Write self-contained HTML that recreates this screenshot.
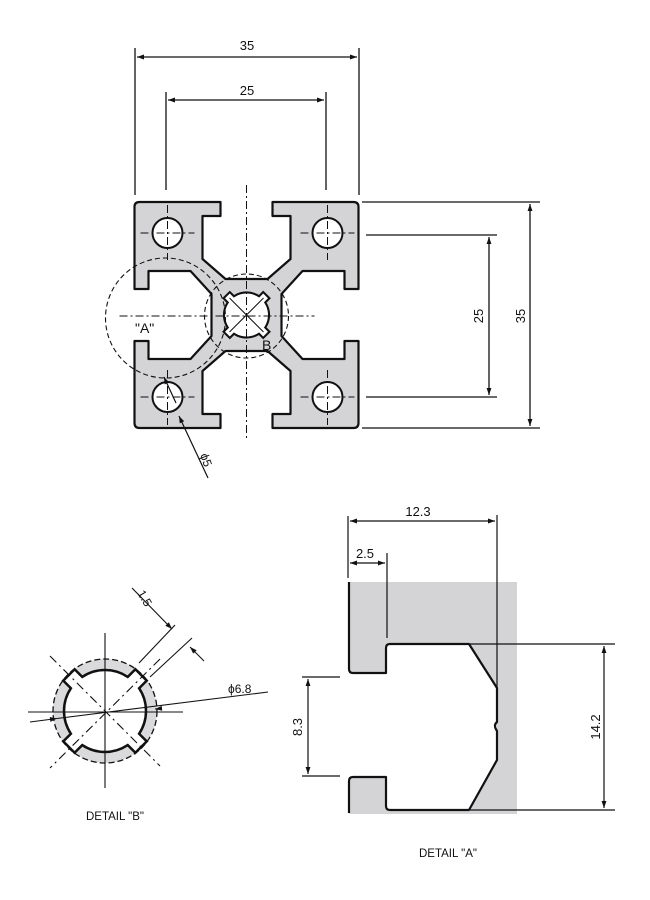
<!DOCTYPE html>
<html><head><meta charset="utf-8"><style>
html,body{margin:0;padding:0;background:#fff;}
svg{display:block;}
text{font-family:"Liberation Sans",Arial,sans-serif;fill:#111;}
</style></head><body>
<svg width="650" height="900" viewBox="0 0 650 900" xmlns="http://www.w3.org/2000/svg">
<defs>
<marker id="ar" viewBox="0 0 10 10" refX="10" refY="5" markerWidth="9" markerHeight="7" orient="auto-start-reverse" markerUnits="userSpaceOnUse"><path d="M0,1.5 L10,5 L0,8.5 z" fill="#111"/></marker>
<path id="star" d="M34.09,22.77 L41.72,30.40 L30.40,41.72 L22.77,34.09 A41,41 0 0 1 -22.77,34.09 L-30.40,41.72 L-41.72,30.40 L-34.09,22.77 A41,41 0 0 1 -34.09,-22.77 L-41.72,-30.40 L-30.40,-41.72 L-22.77,-34.09 A41,41 0 0 1 22.77,-34.09 L30.40,-41.72 L41.72,-30.40 L34.09,-22.77 A41,41 0 0 1 34.09,22.77 Z"/>
</defs>

<g stroke="#111" stroke-width="1.3" fill="none">
<line x1="135" y1="48" x2="135" y2="195"/>
<line x1="359" y1="48" x2="359" y2="195"/>
<line x1="166" y1="92" x2="166" y2="190"/>
<line x1="326" y1="92" x2="326" y2="190"/>
<line x1="137" y1="57" x2="357" y2="57" marker-start="url(#ar)" marker-end="url(#ar)"/>
<line x1="168" y1="100" x2="324" y2="100" marker-start="url(#ar)" marker-end="url(#ar)"/>
<line x1="362" y1="202" x2="540" y2="202"/>
<line x1="362" y1="428" x2="540" y2="428"/>
<line x1="366" y1="235" x2="497" y2="235"/>
<line x1="366" y1="397" x2="497" y2="397"/>
<line x1="530" y1="204" x2="530" y2="426" marker-start="url(#ar)" marker-end="url(#ar)"/>
<line x1="489" y1="237" x2="489" y2="395" marker-start="url(#ar)" marker-end="url(#ar)"/>
</g>
<text x="247" y="50" font-size="13" text-anchor="middle">35</text>
<text x="247" y="95" font-size="13" text-anchor="middle">25</text>
<text transform="translate(483,316) rotate(-90)" font-size="13" text-anchor="middle">25</text>
<text transform="translate(525,316) rotate(-90)" font-size="13" text-anchor="middle">35</text>

<g transform="translate(246.5,315)">
<path fill="#d4d4d6" stroke="#111" stroke-width="2.2" stroke-linejoin="round" d="
M-107,-113 L-26,-113 L-26,-99 L-44,-99 L-44,-56 L-21,-36 L21,-36 L44,-56 L44,-99 L26,-99 L26,-113 L107,-113 Q112,-113 112,-108
L112,-26 L98,-26 L98,-44 L56,-44 L35,-21 L35,21 L56,44 L98,44 L98,26 L112,26 L112,108 Q112,113 107,113
L26,113 L26,99 L44,99 L44,56 L21,36 L-21,36 L-44,56 L-44,99 L-26,99 L-26,113 L-107,113 Q-112,113 -112,108
L-112,26 L-98,26 L-98,44 L-56,44 L-35,21 L-35,-21 L-56,-44 L-98,-44 L-98,-26 L-112,-26 L-112,-108 Q-112,-113 -107,-113 Z"/>
<use href="#star" transform="scale(0.55)" fill="#fff" stroke="#111" stroke-width="3.8"/>
<g fill="#fff" stroke="#111" stroke-width="2">
<circle cx="-79" cy="-82" r="15"/><circle cx="81" cy="-82" r="15"/>
<circle cx="-79" cy="82" r="15"/><circle cx="81" cy="82" r="15"/>
</g>
<g stroke="#111" stroke-width="1" stroke-dasharray="8,3,2,3" fill="none">
<line x1="0" y1="-130" x2="0" y2="125"/>
<line x1="-127" y1="1" x2="68" y2="1"/>
<line x1="-79" y1="-110" x2="-79" y2="-55"/><line x1="-106" y1="-82" x2="-52" y2="-82"/>
<line x1="81" y1="-110" x2="81" y2="-55"/><line x1="54" y1="-82" x2="108" y2="-82"/>
<line x1="-79" y1="55" x2="-79" y2="110"/><line x1="-106" y1="82" x2="-52" y2="82"/>
<line x1="81" y1="55" x2="81" y2="110"/><line x1="54" y1="82" x2="108" y2="82"/>
<line x1="-17" y1="-17" x2="17" y2="17" stroke-dasharray="none"/><line x1="17" y1="-17" x2="-17" y2="17" stroke-dasharray="none"/>
</g>
<g stroke="#111" stroke-width="1.1" stroke-dasharray="5,3" fill="none">
<circle cx="-81" cy="3" r="60"/>
<circle cx="0" cy="1" r="42"/>
</g>
</g>
<text x="135" y="333" font-size="14">"A"</text>
<text x="262" y="350" font-size="14">B</text>
<g stroke="#111" stroke-width="1.2" fill="none">
<line x1="208" y1="478" x2="179" y2="416" marker-end="url(#ar)"/>
<line x1="176" y1="403" x2="164" y2="377" marker-end="url(#ar)"/>
</g>
<text transform="translate(200,455) rotate(70)" font-size="12">ϕ5</text>

<g transform="translate(105,711)">
<circle r="52" fill="#dadadc" stroke="#111" stroke-width="1.3" stroke-dasharray="6,3"/>
<use href="#star" fill="#fff" stroke="#111" stroke-width="2.5"/>
<g stroke="#111" stroke-width="1.1" fill="none">
<line x1="0" y1="-78" x2="0" y2="77"/>
<line x1="-77" y1="1" x2="78" y2="1"/>
<line x1="-55" y1="-55" x2="55" y2="55" stroke-dasharray="9,4,2,4"/>
<line x1="55" y1="-52" x2="-55" y2="57" stroke-dasharray="9,4,2,4"/>
<line x1="-75" y1="11" x2="-48" y2="7.5" marker-end="url(#ar)"/>
<line x1="-48" y1="7.5" x2="163" y2="-19"/>
<line x1="50" y1="-2" x2="55" y2="-2.5" marker-start="url(#ar)"/>
<line x1="34" y1="-48" x2="70" y2="-86"/>
<line x1="45" y1="-34" x2="87" y2="-73"/>
<line x1="27" y1="-123" x2="67" y2="-82" marker-end="url(#ar)"/>
<line x1="99" y1="-50" x2="85" y2="-64" marker-end="url(#ar)"/>
</g>
</g>
<text transform="translate(137,593) rotate(60)" font-size="12">1.5</text>
<text x="228" y="693" font-size="12">ϕ6.8</text>
<text x="115" y="820" font-size="11.5" text-anchor="middle">DETAIL "B"</text>

<rect x="349" y="582" width="168" height="232" fill="#d4d4d6"/>
<path d="M349,673 L386,673 L386,644 L469,644 L497,688 L497,760 L469,810 L386,810 L386,777 L349,777 Z" fill="#fff"/>
<rect x="340" y="673" width="9" height="104" fill="#fff"/>
<path d="M349,582 L349,669 Q349,673 353,673 L386,673 L386,648 Q386,644 390,644 L469,644 L497,688 L497,722 Q493,725 497,731 L497,760 L469,810 L390,810 Q386,810 386,806 L386,777 L353,777 Q349,777 349,781 L349,813" fill="none" stroke="#111" stroke-width="2.2" stroke-linejoin="round"/>
<g stroke="#111" stroke-width="1.2" fill="none">
<line x1="348" y1="516" x2="348" y2="578"/>
<line x1="497" y1="515" x2="497" y2="688"/>
<line x1="387" y1="553" x2="387" y2="638"/>
<line x1="350" y1="521" x2="495" y2="521" marker-start="url(#ar)" marker-end="url(#ar)"/>
<line x1="350" y1="563" x2="385" y2="563" marker-start="url(#ar)" marker-end="url(#ar)"/>
<line x1="470" y1="644" x2="615" y2="644"/>
<line x1="470" y1="810" x2="615" y2="810"/>
<line x1="604" y1="646" x2="604" y2="808" marker-start="url(#ar)" marker-end="url(#ar)"/>
<line x1="302" y1="677" x2="340" y2="677"/>
<line x1="302" y1="776" x2="340" y2="776"/>
<line x1="308" y1="679" x2="308" y2="774" marker-start="url(#ar)" marker-end="url(#ar)"/>
</g>
<text x="418" y="516" font-size="13" text-anchor="middle">12.3</text>
<text x="365" y="558" font-size="13" text-anchor="middle">2.5</text>
<text transform="translate(600,727) rotate(-90)" font-size="13" text-anchor="middle">14.2</text>
<text transform="translate(302,727) rotate(-90)" font-size="13" text-anchor="middle">8.3</text>
<text x="448" y="857" font-size="11.5" text-anchor="middle">DETAIL "A"</text>
</svg>
</body></html>
